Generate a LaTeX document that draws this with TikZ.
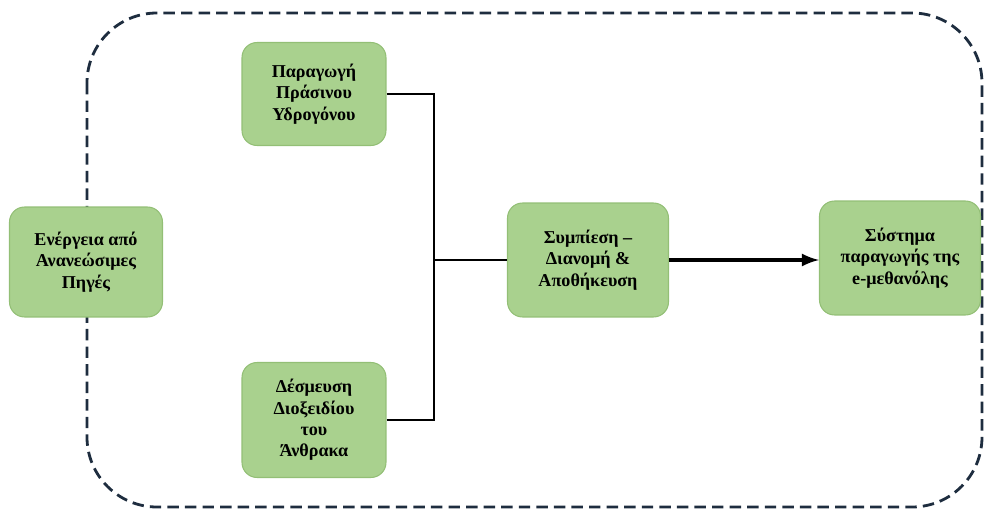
\documentclass[tikz,border=0pt]{standalone}
\usepackage{fontspec}
\setmainfont{Liberation Serif}
\definecolor{boxfill}{HTML}{A9D18E}
\definecolor{boxline}{HTML}{93BF76}
\definecolor{frameline}{HTML}{1E2D3F}
\begin{document}
\begin{tikzpicture}[x=0.02cm,y=-0.02cm]
    \tikzstyle{every node}+=[inner sep=0pt]
    \tikzstyle{block}=[draw=boxline, fill=boxfill, line width=0.6pt, rounded corners=0.3cm, align=center, font=\fontsize{10.3}{12.1}\selectfont\bfseries]
    \tikzstyle{link}=[black, line width=1.7pt]
    \useasboundingbox (0,0) rectangle (985,510);
    % dashed frame
    \draw [frameline, line width=1.6pt, dash pattern=on 6.5pt off 3.5pt, rounded corners=1.4cm] (87,13) rectangle (982,507);
    % blocks
    \node [block, minimum width=3.06cm, minimum height=2.2cm] (res) at (86,262) {Ενέργεια από\\Ανανεώσιμες\\Πηγές};
    \node [block, minimum width=2.88cm, minimum height=2.06cm] (hyd) at (314,94) {Παραγωγή\\Πράσινου\\Υδρογόνου};
    \node [block, minimum width=2.88cm, minimum height=2.3cm] (co2) at (314,420) {Δέσμευση\\Διοξειδίου\\του\\Άνθρακα};
    \node [block, minimum width=3.22cm, minimum height=2.28cm] (comp) at (588,260) {Συμπίεση –\\Διανομή \&\\Αποθήκευση};
    \node [block, minimum width=3.22cm, minimum height=2.28cm] (sys) at (900,258) {Σύστημα\\παραγωγής της\\e-μεθανόλης};
    % connectors
    \coordinate (join) at (434,260);
    \draw [link] (hyd.east) -| (join);
    \draw [link] (co2.east) -| (join);
    \draw [link] (join) -- (comp.west);
    \draw [link, line width=2.3pt, -latex] (comp.east) -- (comp.east -| sys.west);
\end{tikzpicture}
\end{document}
